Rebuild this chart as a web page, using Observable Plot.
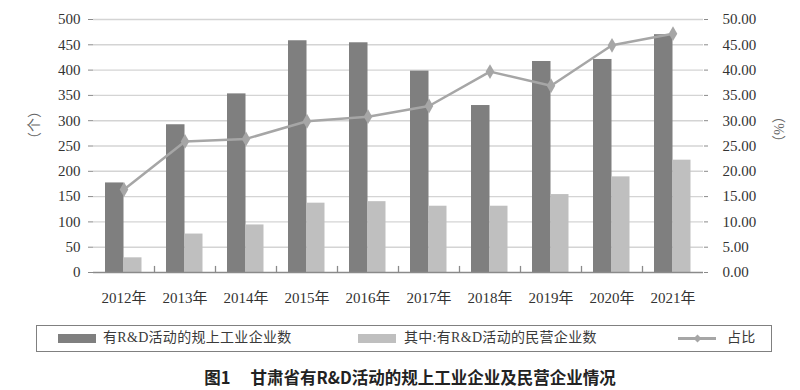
<!DOCTYPE html>
<html>
<head>
<meta charset="utf-8">
<script src="https://cdn.jsdelivr.net/npm/d3@7"></script>
<script src="https://cdn.jsdelivr.net/npm/@observablehq/plot@0.6"></script>
<style>
  html, body { margin: 0; padding: 0; background: #fff; }
  #wrap { position: relative; width: 800px; height: 390px; overflow: hidden; }
  #chart { position: absolute; left: 0; top: 0; }
  #chart svg text { font-family: "Liberation Serif", "Noto Sans CJK SC", serif; }
  #chart svg text.cjk { font-family: "Noto Sans CJK SC", sans-serif; }
  .lg { position: absolute; font-family: "Liberation Serif", "Noto Sans CJK SC", serif; font-size: 14px; color: #3a3a3a; line-height: 26px; top: 0; white-space: nowrap; letter-spacing: 0.3px; }
  #legend { position: absolute; left: 36px; top: 325px; width: 736px; height: 27px; border: 1.5px solid #808080; box-sizing: border-box; }
  .sw { position: absolute; height: 9px; top: 8px; }
  #title { position: absolute; left: 10px; top: 366px; width: 800px; text-align: center; font-family: "Noto Sans CJK SC", sans-serif; font-weight: 700; font-size: 16.5px; color: #222; line-height: 22px; }
</style>
</head>
<body>
<div id="wrap">
  <div id="chart"></div>
  <div id="legend"></div>
  <div id="title"></div>
</div>
<script>
const years = ["2012年","2013年","2014年","2015年","2016年","2017年","2018年","2019年","2020年","2021年"];
const totalFirms = [177, 292, 353, 458, 454, 398, 330, 417, 421, 470];
const privateFirms = [29, 76, 94, 137, 140, 131, 131, 154, 189, 222];
const share = [16.4, 25.9, 26.4, 29.9, 30.8, 32.9, 39.7, 36.9, 44.9, 47.2];
const leftTicks = [0, 50, 100, 150, 200, 250, 300, 350, 400, 450, 500];
const rightTicks = [0, 5, 10, 15, 20, 25, 30, 35, 40, 45, 50];
const seriesNames = ["有R&D活动的规上工业企业数", "其中:有R&D活动的民营企业数", "占比"];
const leftTitle = "（个）";
const rightTitle = "（%）";
const titleText = "图1\u3000\u00a0甘肃省有R&D活动的规上工业企业及民营企业情况";

const data = years.map((y, i) => ({year: y, total: totalFirms[i], priv: privateFirms[i], pct: share[i]}));
const pctScale = 500 / 50; // right axis 0–50 mapped onto left 0–500

const darkC = "#7f7f7f", lightC = "#bfbfbf", lineC = "#a6a6a6";
const tickFont = {fontSize: 15, fill: "#333"};

const chart = Plot.plot({
  width: 800,
  height: 315,
  marginTop: 19,
  marginBottom: 43,
  marginLeft: 93,
  marginRight: 97,
  style: {fontSize: "15px", color: "#333", background: "#fff"},
  x: {type: "band", domain: years, padding: 0},
  y: {domain: [0, 500]},
  marks: [
    Plot.ruleY(leftTicks.slice(1), {stroke: "#d4d4d4", strokeWidth: 1.4}),
    Plot.barY(data, {x: "year", y: "total", fill: darkC, insetLeft: 12, insetRight: 30.5}),
    Plot.barY(data, {x: "year", y: "priv", fill: lightC, insetLeft: 30.5, insetRight: 12.5}),
    Plot.ruleX(years.slice(1), {x: d => d, dx: -30.5, y1: 0, y2: 12, stroke: "#8a8a8a", strokeWidth: 1.3}),
    Plot.ruleY([0], {stroke: "#8a8a8a", strokeWidth: 1.5}),
    Plot.ruleX([0], {frameAnchor: "left", stroke: "#8a8a8a", strokeWidth: 1.5}),
    Plot.ruleX([0], {frameAnchor: "right", stroke: "#8a8a8a", strokeWidth: 1.5}),
    Plot.line(data, {x: "year", y: d => d.pct * pctScale, stroke: lineC, strokeWidth: 2.5}),
    Plot.dot(data, {x: "year", y: d => d.pct * pctScale, symbol: "diamond", r: 4.5, fill: lineC, stroke: "none"}),
    Plot.axisY({ticks: leftTicks, anchor: "left", tickSize: 5, tickPadding: 8, stroke: "#8a8a8a", label: null, ...tickFont}),
    Plot.axisY({ticks: rightTicks.map(d => d * pctScale), anchor: "right", tickSize: 4, tickPadding: 15, stroke: "#8a8a8a", label: null, tickFormat: d => (d / pctScale).toFixed(2), ...tickFont}),
    Plot.axisX({anchor: "bottom", tickSize: 0, tickPadding: 20, label: null, fontSize: 15, fill: "#333"}),
    Plot.text([leftTitle], {frameAnchor: "left", dx: -59, dy: 0, rotate: -90, text: d => d, fontSize: 14, fill: "#666", className: "cjk"}),
    Plot.text([rightTitle], {frameAnchor: "right", dx: 75, dy: 3, rotate: 90, text: d => d, fontSize: 14, fill: "#666"})
  ]
});
document.getElementById("chart").appendChild(chart);

// legend (positions relative to page, box starts at x=36)
const legend = document.getElementById("legend");
const off = 36;
function addSwatch(x, w, color) {
  const s = document.createElement("div");
  s.className = "sw";
  s.style.left = (x - off) + "px";
  s.style.width = w + "px";
  s.style.background = color;
  legend.appendChild(s);
}
function addText(x, t) {
  const s = document.createElement("div");
  s.className = "lg";
  s.style.left = (x - off) + "px";
  s.style.top = "-1px";
  s.textContent = t;
  legend.appendChild(s);
}
addSwatch(57, 38, darkC);
addText(102, seriesNames[0]);
addSwatch(357, 38, lightC);
addText(403, seriesNames[1]);
// line swatch
const ln = document.createElement("div");
ln.style.cssText = `position:absolute;left:${677 - off}px;top:11px;width:38px;height:2.5px;background:${lineC};`;
legend.appendChild(ln);
const dm = document.createElement("div");
dm.style.cssText = `position:absolute;left:${696 - off - 3.5}px;top:8.7px;width:7px;height:7px;background:${lineC};transform:rotate(45deg) scale(0.8,0.8);`;
legend.appendChild(dm);
addText(726, seriesNames[2]);

document.getElementById("title").textContent = titleText;
</script>
</body>
</html>
